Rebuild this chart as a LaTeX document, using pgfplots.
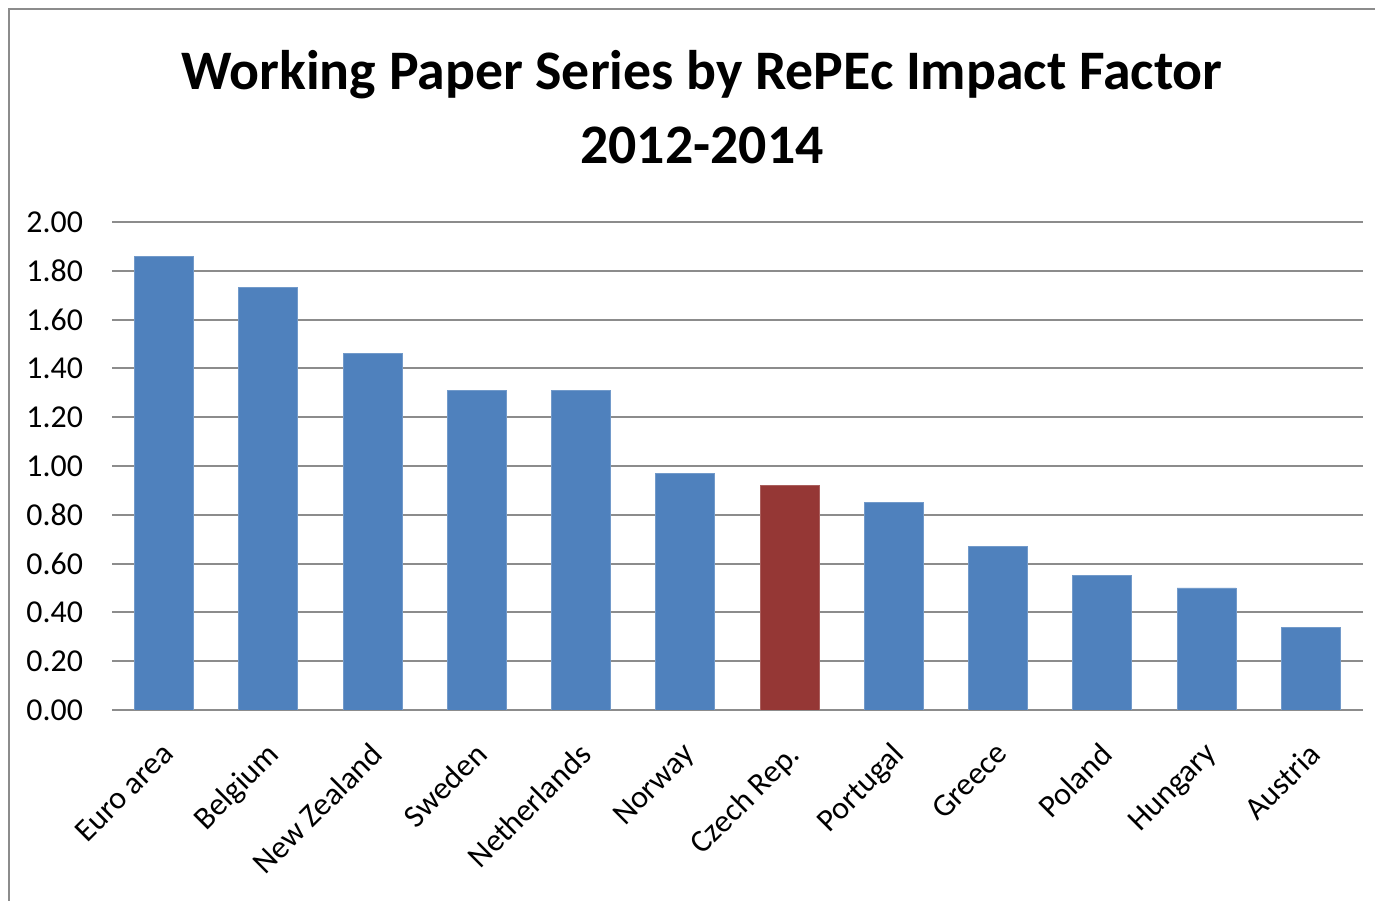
\documentclass[border=0pt]{standalone}
\usepackage{pgfplots}
\pgfplotsset{compat=1.18}
\usepackage{fontspec}
\setmainfont{Carlito}
\definecolor{barblue}{HTML}{4F81BD}
\definecolor{barred}{HTML}{953735}
\definecolor{gridgray}{HTML}{8C8C8C}
\begin{document}
\begin{tikzpicture}
\path[use as bounding box] (0,0) rectangle (687.5bp,450.5bp);
\draw[gridgray, line width=1bp] (4.5bp,0) -- (4.5bp,446bp) -- (687.5bp,446bp);
\node[font=\fontsize{28}{33}\selectfont\bfseries] at (351bp,413bp) {Working Paper Series by RePEc Impact Factor};
\node[font=\fontsize{28}{33}\selectfont\bfseries] at (351bp,378bp) {2012-2014};
\begin{axis}[
    at={(56bp,95.5bp)}, anchor=south west,
    scale only axis,
    width=625.5bp, height=244bp,
    ybar, bar width=29.5bp,
    xmin=-0.5, xmax=11.5,
    ymin=0, ymax=2,
    ytick={0,0.2,...,2.01},
    xtick={0,...,11},
    xticklabels={{Euro area},{Belgium},{New Zealand},{Sweden},{Netherlands},{Norway},{Czech Rep.},{Portugal},{Greece},{Poland},{Hungary},{Austria}},
    major tick length=0pt,
    axis x line*=bottom, axis y line*=left,
    x axis line style={gridgray, line width=1bp, -},
    y axis line style={draw=none},
    ymajorgrids, grid style={gridgray, line width=1bp},
    /pgf/number format/fixed,
    /pgf/number format/fixed zerofill,
    /pgf/number format/precision=2,
    /pgf/number format/assume math mode=true,
    ticklabel style={font=\fontsize{16}{19}\selectfont, text=black},
    yticklabel style={anchor=east, xshift=-11bp},
    xticklabel style={rotate=45, anchor=north east, yshift=-6.2bp, xshift=-8.8bp},
    ]
\addplot[ybar, bar shift=0pt, fill=barblue, draw=barblue!80!white] coordinates {
    (0,1.86) (1,1.73) (2,1.46) (3,1.31) (4,1.31) (5,0.97)
    (7,0.85) (8,0.67) (9,0.55) (10,0.50) (11,0.34)};
\addplot[ybar, bar shift=0pt, fill=barred, draw=barred!80!white] coordinates {(6,0.92)};
\end{axis}
\end{tikzpicture}
\end{document}
